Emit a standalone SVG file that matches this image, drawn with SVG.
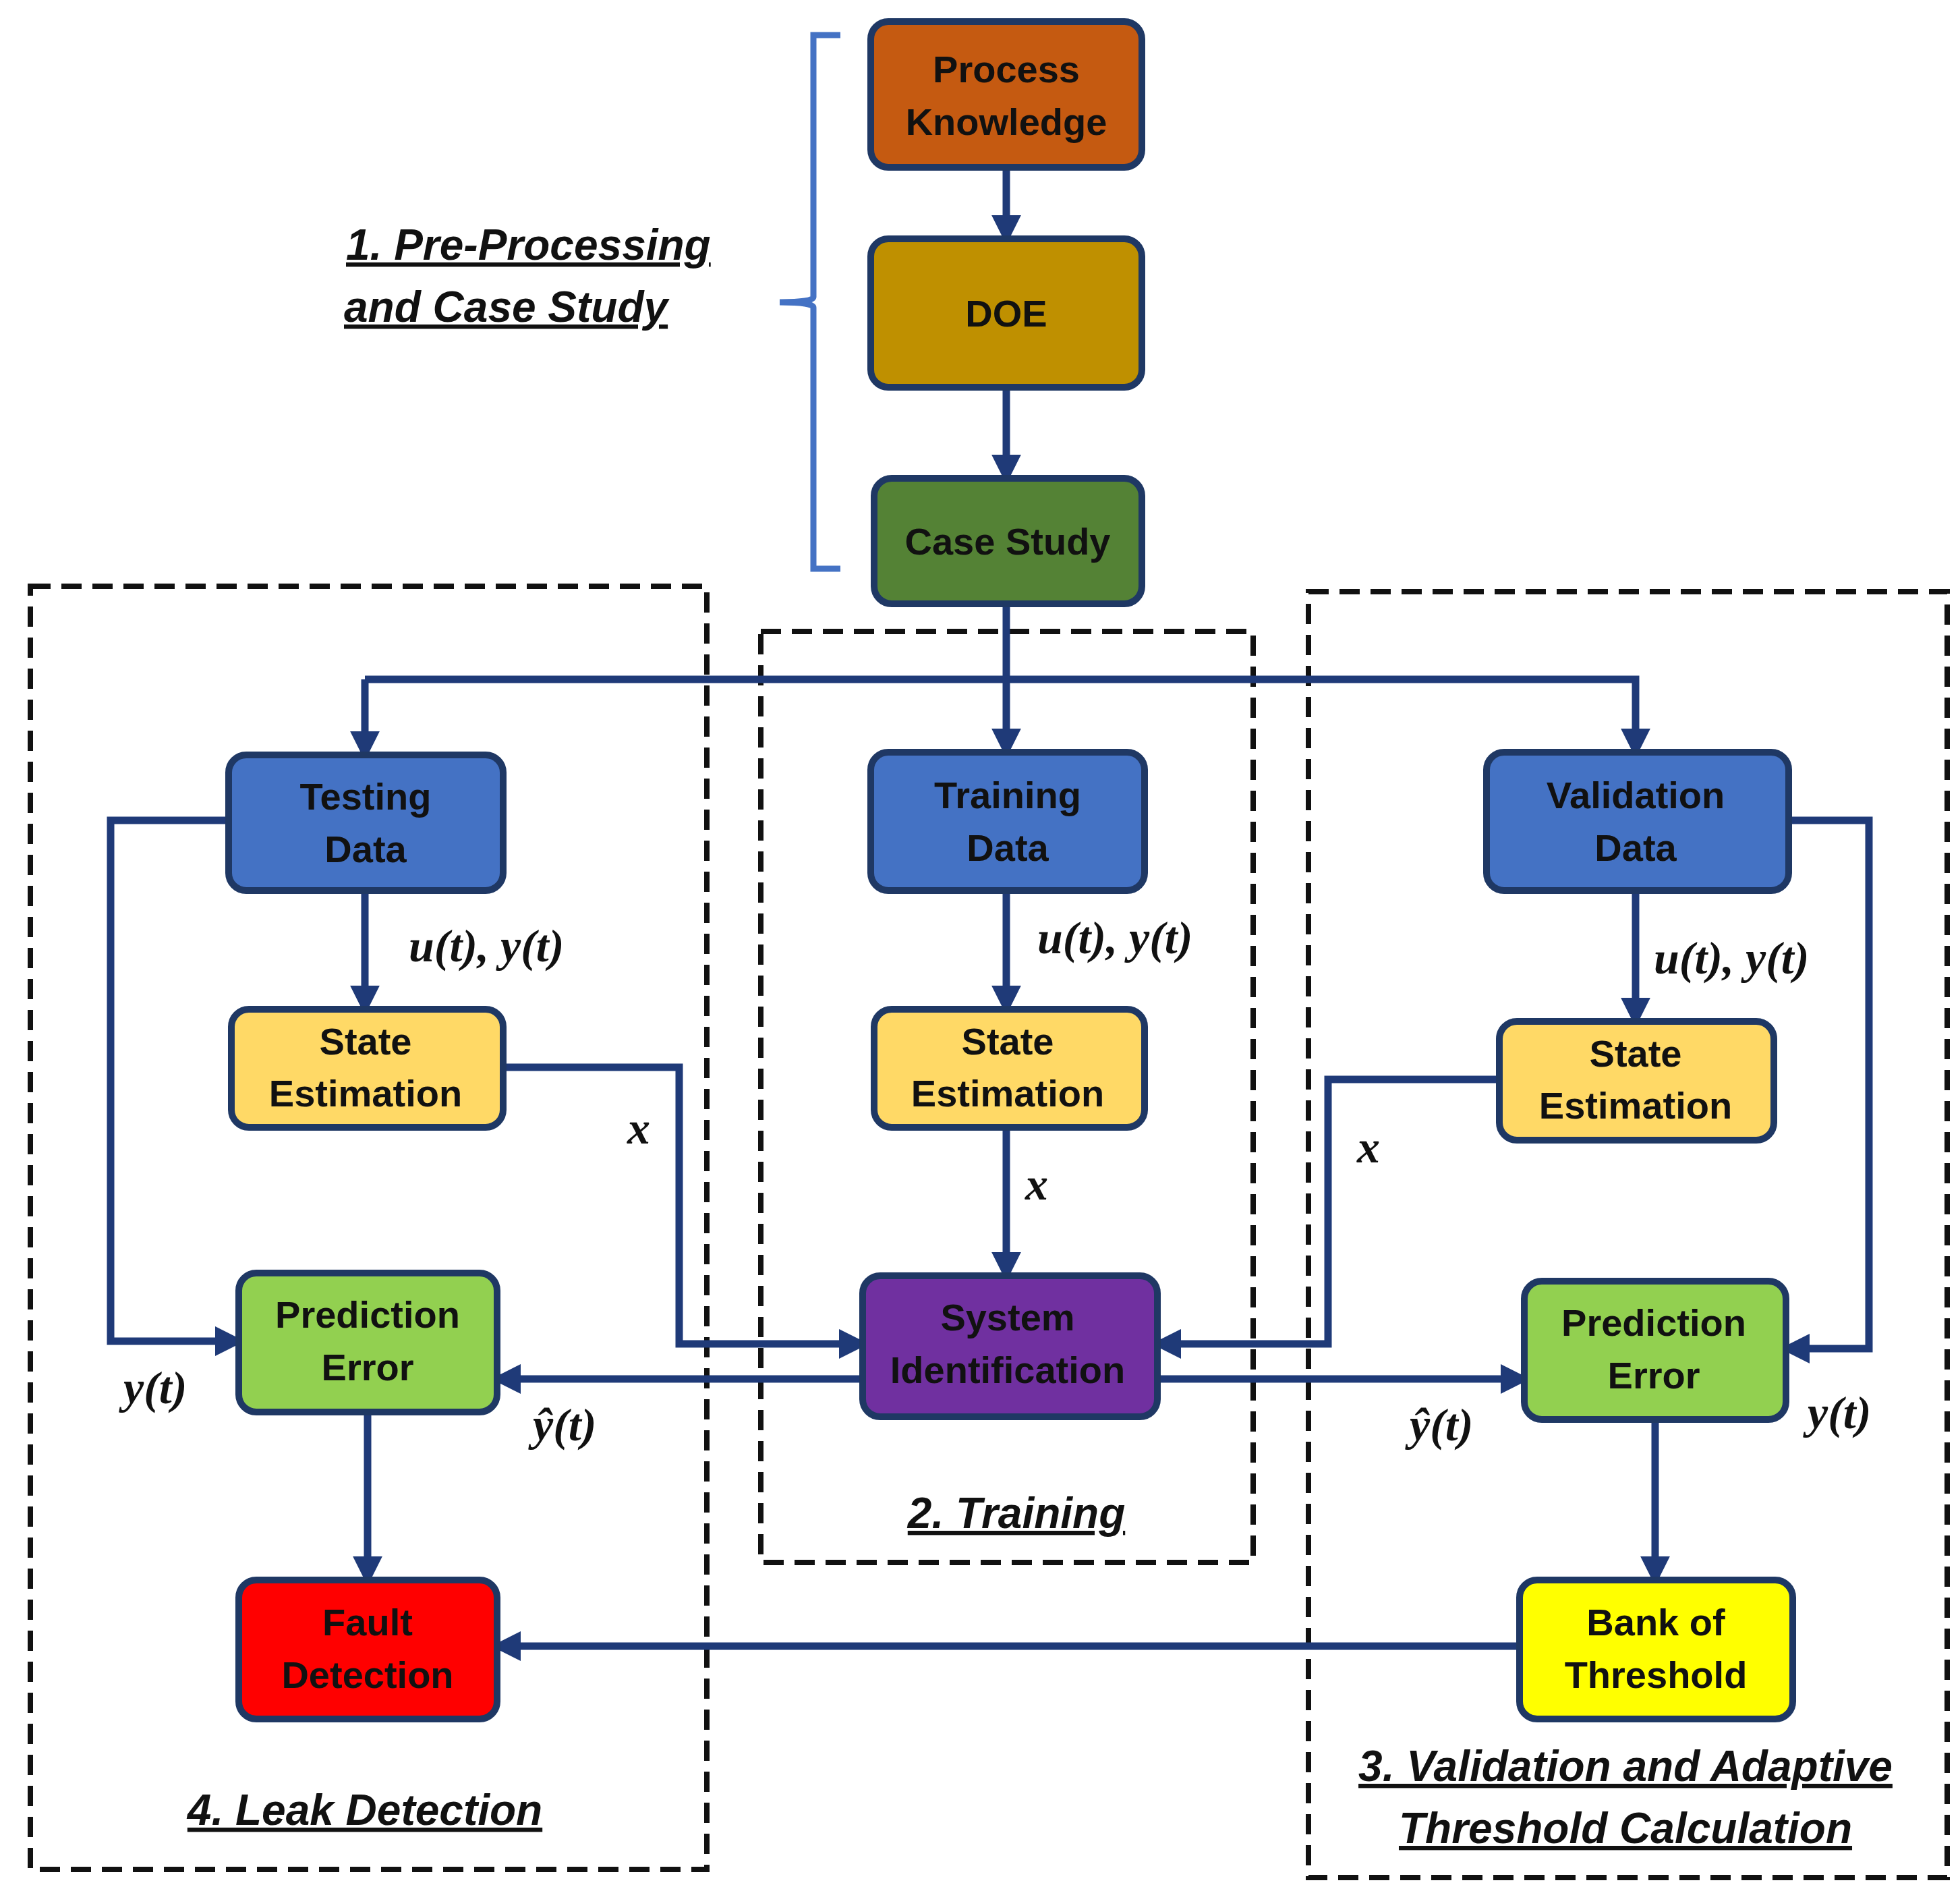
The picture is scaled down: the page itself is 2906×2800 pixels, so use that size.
<svg xmlns="http://www.w3.org/2000/svg" width="2906" height="2800" viewBox="0 0 2906 2800">
<defs>
<marker id="ah" markerWidth="4" markerHeight="4" refX="3.2" refY="2" orient="auto" markerUnits="strokeWidth"><path d="M0,0 L4,2 L0,4 Z" fill="#1f3a78"/></marker>
<style>
.n{stroke:#1f3864;stroke-width:10}
.t{font-family:"Liberation Sans",Arial,sans-serif;font-weight:bold;font-size:56px;text-anchor:middle;fill:#111}
.c{fill:none;stroke:#1f3a78;stroke-width:11;marker-end:url(#ah)}
.l{fill:none;stroke:#1f3a78;stroke-width:11}
.d{fill:none;stroke:#111;stroke-width:8;stroke-dasharray:30 16}
.s{font-family:"Liberation Sans",Arial,sans-serif;font-weight:bold;font-style:italic;font-size:64px;text-decoration:underline;fill:#111}
.m{font-family:"Liberation Serif","Times New Roman",serif;font-weight:bold;font-style:italic;font-size:68px;fill:#111}
</style>
</defs>
<rect width="2906" height="2800" fill="#fff"/>
<g id="frames">
<rect class="d" x="45" y="869" width="1003" height="1902"/>
<rect class="d" x="1128" y="936" width="730" height="1380"/>
<rect class="d" x="1940" y="877" width="947" height="1906"/>
<path d="M1246,52 H1206 V440 Q1206,448 1156,448 Q1206,448 1206,456 V843 H1246" fill="none" stroke="#4472c4" stroke-width="9"/>
</g>
<g id="connectors">
<path class="c" d="M1492,248 V354"/>
<path class="c" d="M1492,574 V709"/>
<path class="c" d="M1492,895 V1115"/>
<path class="c" d="M541,1007 H1492 H2425 V1115"/>
<path class="c" d="M541,1007 V1119"/>
<path class="c" d="M541,1320 V1496"/>
<path class="c" d="M1492,1320 V1496"/>
<path class="c" d="M2425,1320 V1514"/>
<path class="c" d="M1492,1671 V1891"/>
<path class="c" d="M746,1582 H1007 V1992 H1279"/>
<path class="c" d="M2223,1600 H1969 V1992 H1716"/>
<path class="c" d="M339,1216 H164 V1988 H354"/>
<path class="c" d="M2652,1216 H2771 V1999 H2648"/>
<path class="c" d="M1279,2044 H737"/>
<path class="c" d="M1716,2044 H2260"/>
<path class="c" d="M545,2093 V2342"/>
<path class="c" d="M2454,2104 V2342"/>
<path class="c" d="M2253,2440 H737"/>
</g>
<g id="pk"><rect class="n" x="1291" y="32" width="402" height="216" rx="26" fill="#c55a11"/><text class="t" x="1492" y="122">Process</text><text class="t" x="1492" y="200">Knowledge</text></g>
<g id="doe"><rect class="n" x="1291" y="354" width="402" height="220" rx="26" fill="#bf9000"/><text class="t" x="1492" y="484">DOE</text></g>
<g id="case"><rect class="n" x="1296" y="709" width="397" height="186" rx="26" fill="#548235"/><text class="t" x="1494" y="822">Case Study</text></g>
<g id="testing"><rect class="n" x="339" y="1119" width="407" height="201" rx="26" fill="#4472c4"/><text class="t" x="542" y="1200">Testing</text><text class="t" x="542" y="1278">Data</text></g>
<g id="training"><rect class="n" x="1291" y="1115" width="406" height="205" rx="26" fill="#4472c4"/><text class="t" x="1494" y="1198">Training</text><text class="t" x="1494" y="1276">Data</text></g>
<g id="validation"><rect class="n" x="2204" y="1115" width="448" height="205" rx="26" fill="#4472c4"/><text class="t" x="2425" y="1198">Validation</text><text class="t" x="2425" y="1276">Data</text></g>
<g id="seL"><rect class="n" x="343" y="1496" width="403" height="175" rx="26" fill="#ffd966"/><text class="t" x="542" y="1563">State</text><text class="t" x="542" y="1640">Estimation</text></g>
<g id="seM"><rect class="n" x="1296" y="1496" width="401" height="175" rx="26" fill="#ffd966"/><text class="t" x="1494" y="1563">State</text><text class="t" x="1494" y="1640">Estimation</text></g>
<g id="seR"><rect class="n" x="2223" y="1514" width="407" height="176" rx="26" fill="#ffd966"/><text class="t" x="2425" y="1581">State</text><text class="t" x="2425" y="1658">Estimation</text></g>
<g id="peL"><rect class="n" x="354" y="1887" width="383" height="206" rx="26" fill="#92d050"/><text class="t" x="545" y="1968">Prediction</text><text class="t" x="545" y="2046">Error</text></g>
<g id="sysid"><rect class="n" x="1279" y="1891" width="437" height="209" rx="26" fill="#7030a0"/><text class="t" x="1494" y="1972">System</text><text class="t" x="1494" y="2050">Identification</text></g>
<g id="peR"><rect class="n" x="2260" y="1899" width="388" height="205" rx="26" fill="#92d050"/><text class="t" x="2452" y="1980">Prediction</text><text class="t" x="2452" y="2058">Error</text></g>
<g id="fault"><rect class="n" x="354" y="2342" width="383" height="206" rx="26" fill="#ff0000"/><text class="t" x="545" y="2424">Fault</text><text class="t" x="545" y="2502">Detection</text></g>
<g id="bank"><rect class="n" x="2253" y="2342" width="405" height="206" rx="26" fill="#ffff00"/><text class="t" x="2455" y="2424">Bank of</text><text class="t" x="2455" y="2502">Threshold</text></g>
<g id="labels">
<text class="m" x="606" y="1425">u(t), y(t)</text>
<text class="m" x="1538" y="1413">u(t), y(t)</text>
<text class="m" x="2452" y="1443">u(t), y(t)</text>
<text class="m" x="930" y="1695">x</text>
<text class="m" x="1520" y="1778">x</text>
<text class="m" x="2012" y="1723">x</text>
<text class="m" x="183" y="2080">y(t)</text>
<text class="m" x="790" y="2135">ŷ(t)</text>
<text class="m" x="2090" y="2135">ŷ(t)</text>
<text class="m" x="2680" y="2117">y(t)</text>
<text class="s" x="513" y="385">1. Pre-Processing</text>
<text class="s" x="510" y="477">and Case Study</text>
<text class="s" x="1507" y="2265" text-anchor="middle">2. Training</text>
<text class="s" x="2410" y="2640" text-anchor="middle">3. Validation and Adaptive</text>
<text class="s" x="2410" y="2732" text-anchor="middle">Threshold Calculation</text>
<text class="s" x="541" y="2705" text-anchor="middle">4. Leak Detection</text>
</g>
</svg>
